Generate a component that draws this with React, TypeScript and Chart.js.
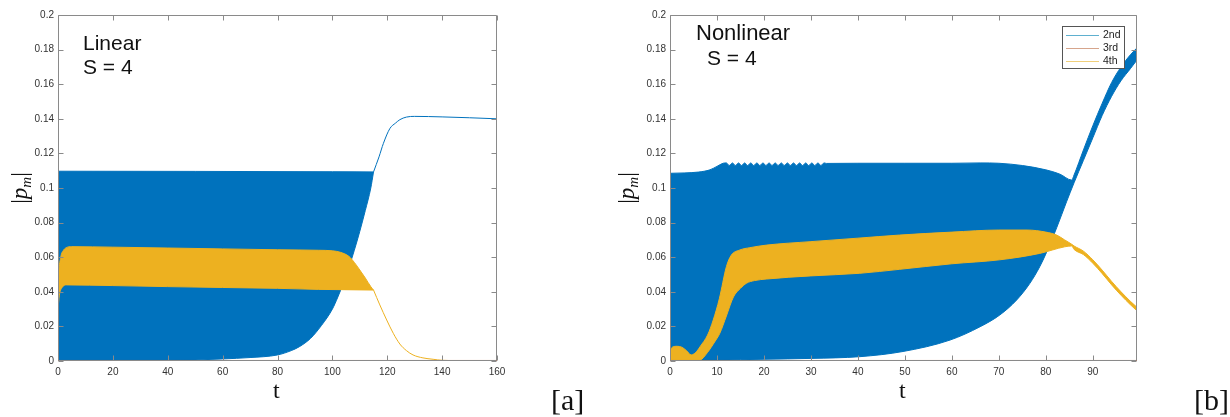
import React, { useEffect, useRef } from "react";
import { Chart, registerables } from "chart.js";

Chart.register(...registerables);

// ---------- Panel [a] : Linear, S = 4 ----------
const aXTicks = [0, 20, 40, 60, 80, 100, 120, 140, 160];
const aBlueUpperT = [0, 50, 100, 115];
const aBlueUpperV = [0.1097, 0.1096, 0.1094, 0.1093];
const aBlueLowerT = [0, 40, 60, 70, 80, 85, 88, 92, 96, 100, 102, 104, 106, 108, 110, 112, 114, 115];
const aBlueLowerV = [0, 0.0002, 0.0012, 0.002, 0.0035, 0.006, 0.0083, 0.013, 0.0205, 0.03, 0.037, 0.045, 0.054, 0.064, 0.075, 0.087, 0.1, 0.1093];
const aBlueTailT = [115, 117, 118.6, 121, 123, 124.6, 127, 130, 140, 150, 160];
const aBlueTailV = [0.1093, 0.118, 0.1258, 0.1345, 0.1375, 0.1395, 0.141, 0.1414, 0.1411, 0.1406, 0.14];
const aYellowUpperT = [0, 0.3, 1, 2, 3, 5, 20, 40, 60, 80, 95, 100, 103, 106, 108, 110, 112, 114, 115];
const aYellowUpperV = [0.035, 0.05, 0.06, 0.064, 0.0655, 0.0661, 0.0658, 0.0653, 0.0648, 0.0643, 0.064, 0.0637, 0.0628, 0.0605, 0.057, 0.0526, 0.048, 0.043, 0.041];
const aYellowLowerT = [0, 0.5, 1.5, 3, 20, 40, 60, 80, 95, 115];
const aYellowLowerV = [0.03, 0.038, 0.0425, 0.044, 0.0436, 0.043, 0.0425, 0.042, 0.0414, 0.041];
const aYellowTailT = [115, 117.3, 119.8, 122.2, 124.6, 127, 129.4, 133, 136.7, 140, 150, 160];
const aYellowTailV = [0.041, 0.0324, 0.0237, 0.016, 0.0098, 0.006, 0.0035, 0.0018, 0.001, 0.0004, 0.0001, 0];
const aOrangeT = [0, 160];
const aOrangeV = [0.0003, 0.0003];

// ---------- Panel [b] : Nonlinear, S = 4 ----------
const bXTicks = [0, 10, 20, 30, 40, 50, 60, 70, 80, 90];
const bXMax = 99.4;
const bBlueUpperT = [0, 3, 6, 8.5, 10, 11.3, 12, 12.6, 13.3, 13.9, 14.6, 15.2, 15.9, 16.5, 17.2, 17.8, 18.5, 19.1, 19.8, 20.4, 21.1, 21.7, 22.4, 23, 23.7, 24.3, 25, 25.6, 26.3, 26.9, 27.6, 28.2, 28.9, 29.5, 30.2, 30.8, 31.5, 32.1, 32.8, 33.3, 40, 50, 60, 66, 70, 75, 80, 83, 85.5, 86, 88, 90, 92, 94, 96, 98, 99.4];
const bBlueUpperV = [0.1085, 0.1087, 0.1092, 0.1105, 0.1125, 0.1143, 0.1145, 0.113, 0.1145, 0.113, 0.1145, 0.113, 0.1145, 0.113, 0.1145, 0.113, 0.1145, 0.113, 0.1145, 0.113, 0.1145, 0.113, 0.1145, 0.113, 0.1145, 0.113, 0.1145, 0.113, 0.1145, 0.113, 0.1145, 0.113, 0.1145, 0.113, 0.1145, 0.113, 0.1145, 0.113, 0.1145, 0.1142, 0.1143, 0.1143, 0.1143, 0.1145, 0.1143, 0.113, 0.1105, 0.108, 0.1046, 0.1075, 0.122, 0.136, 0.149, 0.161, 0.17, 0.177, 0.181];
const bBlueLowerT = [0, 5, 10, 20, 30, 40.4, 49.6, 59.6, 66, 70.2, 73.8, 76.6, 78.7, 80.1, 82.3, 84.4, 86, 88, 90, 92, 94, 96, 98, 99.4];
const bBlueLowerV = [0, 0, 0.0005, 0.001, 0.0015, 0.0025, 0.0055, 0.0121, 0.0198, 0.0266, 0.0353, 0.0449, 0.0545, 0.0625, 0.077, 0.092, 0.103, 0.116, 0.129, 0.142, 0.153, 0.162, 0.169, 0.174];
const bYellowUpperT = [0, 0.5, 1.5, 2.5, 3.5, 4.5, 5.5, 6.4, 8, 9.2, 10.5, 12, 13, 14.9, 17, 20.6, 30, 40, 48.9, 60, 70, 76, 80, 82.3, 84, 85.5, 86, 88, 90, 92, 94, 96, 98, 99.4];
const bYellowUpperV = [0.006, 0.008, 0.0085, 0.008, 0.006, 0.0035, 0.005, 0.0083, 0.015, 0.0237, 0.036, 0.0545, 0.061, 0.0642, 0.0655, 0.067, 0.069, 0.071, 0.0728, 0.0745, 0.0757, 0.0757, 0.0745, 0.0728, 0.07, 0.0675, 0.0665, 0.0635, 0.0585, 0.0525, 0.046, 0.04, 0.0345, 0.031];
const bYellowLowerT = [0, 3, 4.5, 6.4, 8, 9.5, 10.6, 12, 13.5, 15, 16.3, 18, 20.6, 30, 40.4, 48.9, 60, 70.2, 78.7, 84, 85.5, 86, 88, 90, 92, 94, 96, 98, 99.4];
const bYellowLowerV = [0, 0, 0, 0.0005, 0.005, 0.011, 0.016, 0.026, 0.037, 0.042, 0.045, 0.0465, 0.0474, 0.0492, 0.0507, 0.053, 0.0562, 0.0585, 0.0622, 0.066, 0.0665, 0.0645, 0.0615, 0.0565, 0.0505, 0.044, 0.038, 0.0325, 0.029];
const bOrangeT = [0, bXMax];
const bOrangeV = [0.0003, 0.0003];

const yTicks = [0, 0.02, 0.04, 0.06, 0.08, 0.1, 0.12, 0.14, 0.16, 0.18, 0.2];
const legendLabels = ["2nd", "3rd", "4th"];

const BLUE = "#0072BD";
const ORANGE = "#D95319";
const YELLOW = "#EDB120";
const LEGEND_COLORS = ["#5fb0cf", "#d6a58c", "#f0cf7a"];
const FRAME = "#8a8a8a";
const TICKCOL = "#333333";

const pts = (t: number[], v: number[]) => t.map((x, i) => ({ x, y: v[i] }));

function line(data: any, color: string, fill: any, width = 1) {
  return {
    data,
    borderColor: color,
    backgroundColor: color,
    borderWidth: width,
    pointRadius: 0,
    fill,
    cubicInterpolationMode: "monotone",
  };
}

const framePlugin = {
  id: "frameTicks",
  afterDatasetsDraw(chart: any) {
    const { ctx, chartArea: a, scales } = chart;
    const L = Math.round(a.left) + 0.5;
    const R = Math.round(a.right) - 0.5;
    const T = Math.round(a.top) + 0.5;
    const B = Math.round(a.bottom) - 0.5;
    ctx.save();
    ctx.strokeStyle = FRAME;
    ctx.lineWidth = 1;
    ctx.beginPath();
    ctx.rect(L, T, R - L, B - T);
    ctx.stroke();
    const len = 5;
    ctx.beginPath();
    scales.x.ticks.forEach((tk: any) => {
      const x = Math.round(scales.x.getPixelForValue(tk.value)) + 0.5;
      ctx.moveTo(x, B);
      ctx.lineTo(x, B - len);
      ctx.moveTo(x, T);
      ctx.lineTo(x, T + len);
    });
    scales.y.ticks.forEach((tk: any) => {
      const y = Math.round(scales.y.getPixelForValue(tk.value)) + 0.5;
      ctx.moveTo(L, y);
      ctx.lineTo(L + len, y);
      ctx.moveTo(R, y);
      ctx.lineTo(R - len, y);
    });
    ctx.stroke();
    ctx.restore();
  },
};

function makeLegendPlugin(box: { x: number; y: number; w: number; h: number }) {
  return {
    id: "boxLegend",
    afterDraw(chart: any) {
      const { ctx } = chart;
      ctx.save();
      ctx.fillStyle = "#ffffff";
      ctx.fillRect(box.x, box.y, box.w, box.h);
      ctx.strokeStyle = "#555555";
      ctx.lineWidth = 1;
      ctx.strokeRect(box.x + 0.5, box.y + 0.5, box.w - 1, box.h - 1);
      ctx.font = "10.5px 'Liberation Sans', Arial, sans-serif";
      ctx.textBaseline = "middle";
      legendLabels.forEach((lab, i) => {
        const y = Math.round(box.y + 9 + i * 13) + 0.5;
        ctx.strokeStyle = LEGEND_COLORS[i];
        ctx.beginPath();
        ctx.moveTo(box.x + 4, y);
        ctx.lineTo(box.x + 37, y);
        ctx.stroke();
        ctx.fillStyle = "#222";
        ctx.fillText(lab, box.x + 41, y);
      });
      ctx.restore();
    },
  };
}

function buildOptions(xMax: number, xTicks: number[], yAxisWidth: number, padRight: number) {
  const tickFont = { family: "'Liberation Sans', Arial, sans-serif", size: 10 };
  return {
    animation: false,
    responsive: false,
    events: [],
    layout: { padding: { left: 0, top: 15, right: padRight, bottom: 36 } },
    plugins: { legend: { display: false }, tooltip: { enabled: false }, title: { display: false } },
    scales: {
      x: {
        type: "linear",
        min: 0,
        max: xMax,
        afterBuildTicks: (s: any) => {
          s.ticks = xTicks.map((v) => ({ value: v }));
        },
        afterFit: (s: any) => {
          s.height = 20;
        },
        grid: { display: false, drawTicks: false },
        border: { display: false },
        ticks: { font: tickFont, color: TICKCOL, padding: 5, maxRotation: 0, autoSkip: false, callback: (v: any) => String(v) },
      },
      y: {
        type: "linear",
        min: 0,
        max: 0.2,
        afterBuildTicks: (s: any) => {
          s.ticks = yTicks.map((v) => ({ value: v }));
        },
        afterFit: (s: any) => {
          s.width = yAxisWidth;
        },
        grid: { display: false, drawTicks: false },
        border: { display: false },
        ticks: { font: tickFont, color: TICKCOL, padding: 4, autoSkip: false, callback: (v: any) => String(Number(Number(v).toFixed(2))) },
      },
    },
  };
}

function Panel(props: { left: number; width: number; config: () => any }) {
  const ref = useRef<HTMLCanvasElement | null>(null);
  useEffect(() => {
    if (!ref.current) return;
    const chart = new Chart(ref.current, props.config());
    return () => chart.destroy();
  }, []);
  return (
    <canvas
      ref={ref}
      width={props.width}
      height={417}
      style={{ position: "absolute", left: props.left, top: 0, width: props.width, height: 417 }}
    />
  );
}

const configA = () => ({
  type: "line",
  data: {
    datasets: [
      line(pts(aOrangeT, aOrangeV), ORANGE, false),
      line(pts(aYellowUpperT, aYellowUpperV), YELLOW, false),
      line(pts(aYellowLowerT, aYellowLowerV), YELLOW, "-1"),
      line(pts(aYellowTailT, aYellowTailV), YELLOW, false),
      line(pts(aBlueTailT, aBlueTailV), BLUE, false),
      line(pts(aBlueUpperT, aBlueUpperV), BLUE, false),
      line(pts(aBlueLowerT, aBlueLowerV), BLUE, "-1"),
    ],
  },
  options: buildOptions(160, aXTicks, 58, 103),
  plugins: [framePlugin],
});

const configB = () => ({
  type: "line",
  data: {
    datasets: [
      line(pts(bOrangeT, bOrangeV), ORANGE, false),
      line(pts(bYellowUpperT, bYellowUpperV), YELLOW, false),
      line(pts(bYellowLowerT, bYellowLowerV), YELLOW, "-1"),
      line(pts(bBlueUpperT, bBlueUpperV), BLUE, false),
      line(pts(bBlueLowerT, bBlueLowerV), BLUE, "-1"),
    ],
  },
  options: buildOptions(bXMax, bXTicks, 70, 93),
  plugins: [framePlugin, makeLegendPlugin({ x: 462, y: 26, w: 63, h: 43 })],
});

const serif = "'Liberation Serif', 'DejaVu Serif', serif";
const sans = "'Liberation Sans', Arial, sans-serif";

function YLabel(props: { cx: number }) {
  return (
    <div
      style={{
        position: "absolute",
        left: props.cx - 30,
        top: 188 - 14,
        width: 60,
        height: 28,
        textAlign: "center",
        lineHeight: "28px",
        fontFamily: serif,
        fontSize: 23,
        color: "#111",
        transform: "rotate(-90deg)",
        whiteSpace: "nowrap",
      }}
    >
      |<i>p</i>
      <sub style={{ fontSize: 15, fontStyle: "italic", verticalAlign: "-4px" }}>m</sub>|
    </div>
  );
}

function Txt(props: { x: number; y: number; size: number; family: string; children: any }) {
  return (
    <div
      style={{
        position: "absolute",
        left: props.x,
        top: props.y,
        fontFamily: props.family,
        fontSize: props.size,
        lineHeight: 1,
        color: "#111",
        whiteSpace: "pre",
      }}
    >
      {props.children}
    </div>
  );
}

export default function App() {
  return (
    <div style={{ position: "absolute", left: 0, top: 0, width: 1230, height: 417, background: "#fff", overflow: "hidden" }}>
      <Panel left={0} width={600} config={configA} />
      <Panel left={600} width={630} config={configB} />
      <YLabel cx={20} />
      <YLabel cx={627} />
      <Txt x={83} y={32} size={21} family={sans}>Linear</Txt>
      <Txt x={83} y={56} size={21} family={sans}>S = 4</Txt>
      <Txt x={696} y={22} size={22} family={sans}>Nonlinear</Txt>
      <Txt x={707} y={47} size={21} family={sans}>S = 4</Txt>
      <Txt x={273} y={378} size={24} family={serif}>t</Txt>
      <Txt x={899} y={378} size={24} family={serif}>t</Txt>
      <Txt x={551} y={385} size={30} family={serif}>[a]</Txt>
      <Txt x={1194} y={385} size={30} family={serif}>[b]</Txt>
    </div>
  );
}
